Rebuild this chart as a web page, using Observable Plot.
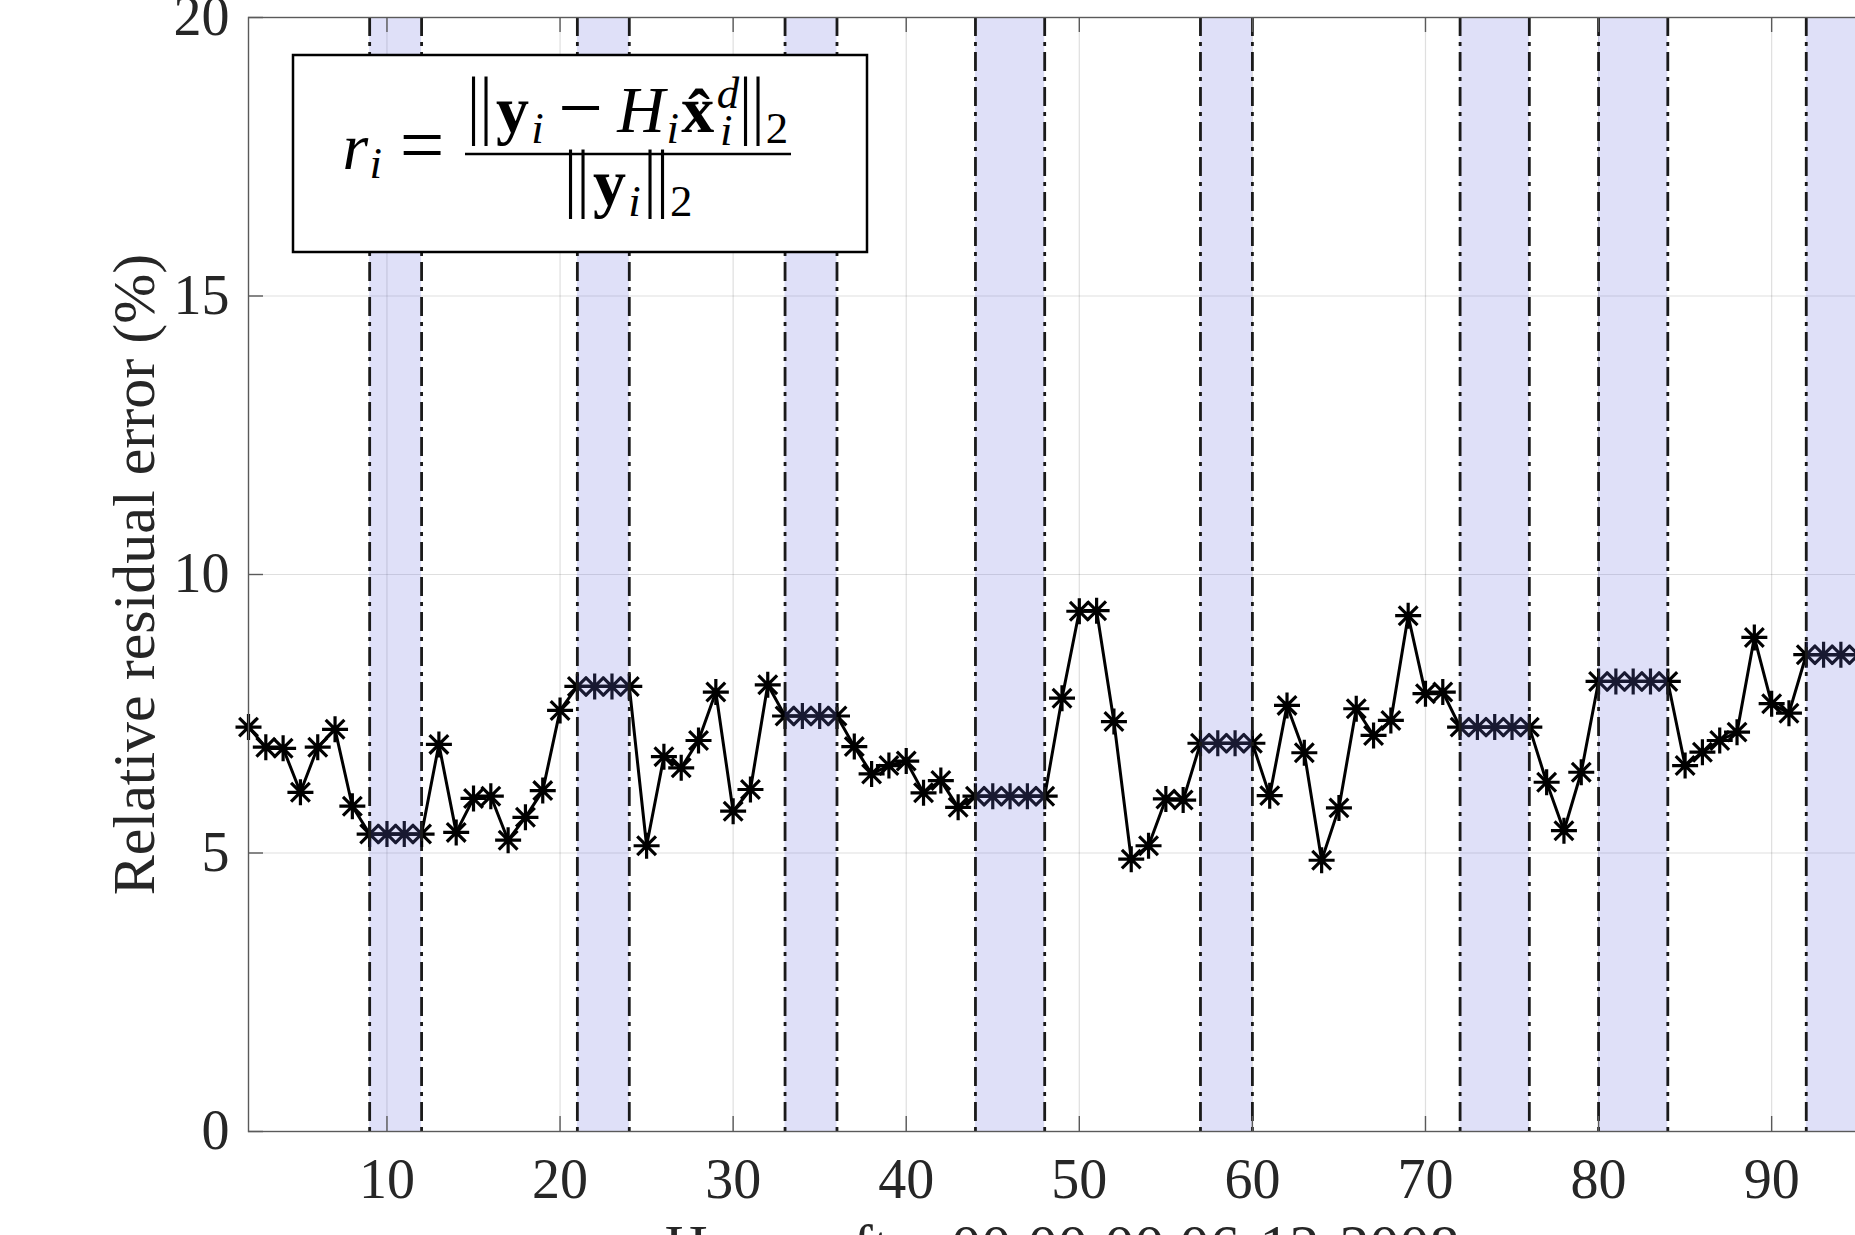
<!DOCTYPE html>
<html>
<head>
<meta charset="utf-8">
<script src="https://cdn.jsdelivr.net/npm/d3@7"></script>
<script src="https://cdn.jsdelivr.net/npm/@observablehq/plot@0.6"></script>
<style>
  html, body { margin: 0; padding: 0; overflow: hidden; background: #ffffff; }
  #chart { position: relative; width: 1900px; }
  #chart svg { max-width: none !important; }
</style>
</head>
<body>
<div id="chart"></div>
<script>
// ---------------- data ----------------
const hours = [2,3,4,5,6,7,8,9,10,11,12,13,14,15,16,17,18,19,20,21,22,23,24,25,26,27,28,29,30,31,32,33,34,35,36,37,38,39,40,41,42,43,44,45,46,47,48,49,50,51,52,53,54,55,56,57,58,59,60,61,62,63,64,65,66,67,68,69,70,71,72,73,74,75,76,77,78,79,80,81,82,83,84,85,86,87,88,89,90,91,92,93,94,95];
const errorPct = [
  7.26, 6.90, 6.88, 6.09, 6.90, 7.22, 5.84, 5.34, 5.34, 5.34,
  5.34, 6.95, 5.37, 5.98, 6.02, 5.23, 5.64, 6.12, 7.56, 7.99,
  7.99, 7.99, 7.99, 5.13, 6.73, 6.53, 7.02, 7.89, 5.75, 6.14,
  8.02, 7.46, 7.46, 7.46, 7.46, 6.91, 6.42, 6.57, 6.65, 6.08,
  6.30, 5.82, 6.02, 6.02, 6.02, 6.02, 6.02, 7.78, 9.34, 9.35,
  7.36, 4.89, 5.13, 5.97, 5.95, 6.97, 6.97, 6.97, 6.97, 6.03,
  7.65, 6.80, 4.87, 5.81, 7.59, 7.11, 7.38, 9.26, 7.86, 7.89,
  7.26, 7.26, 7.26, 7.26, 7.26, 6.27, 5.40, 6.45, 8.08, 8.08,
  8.08, 8.08, 8.08, 6.57, 6.81, 7.02, 7.17, 8.87, 7.68, 7.51,
  8.56, 8.56, 8.56, 8.56
];
const bandStart = [9, 21, 33, 44, 57, 72, 80, 92];
const bandEnd   = [12, 24, 36, 48, 60, 76, 84, 96];
const xTicks = [10, 20, 30, 40, 50, 60, 70, 80, 90];
const yTicks = [0, 5, 10, 15, 20];
const xLabel = "Hours after 00:00:00 06-12-2008";
const yLabel = "Relative residual error (%)";

// ---------------- layout ----------------
const W = 1875, H = 1290;
const mL = 248, mR = 0, mT = 17, mB = 159;
const plotW = W - mL - mR, plotH = H - mT - mB;
const axisColor = "#5a5a5a";
const textColor = "#262626";

const data = hours.map((h, i) => ({hour: h, err: errorPct[i]}));
const bands = bandStart.map((s, i) => ({start: s, end: bandEnd[i]}));
const bandEdges = bandStart.concat(bandEnd);

// MATLAB-style '*' marker: a plus and a cross
const matlabStar = {
  draw(ctx, size) {
    const r = Math.sqrt(size / Math.PI);
    const d = r * 0.72;
    ctx.moveTo(-r, 0); ctx.lineTo(r, 0);
    ctx.moveTo(0, -r); ctx.lineTo(0, r);
    ctx.moveTo(-d, -d); ctx.lineTo(d, d);
    ctx.moveTo(-d, d); ctx.lineTo(d, -d);
  }
};

const plot = Plot.plot({
  width: W,
  height: H,
  marginLeft: mL, marginRight: mR, marginTop: mT, marginBottom: mB,
  style: {fontFamily: "'Liberation Serif', 'Times New Roman', serif", background: "#ffffff", overflow: "visible", maxWidth: "none"},
  x: {domain: [2, 96], axis: null},
  y: {domain: [0, 20], axis: null},
  marks: [
    Plot.gridX(xTicks, {stroke: "#262626", strokeOpacity: 0.15, strokeWidth: 1.2}),
    Plot.gridY(yTicks, {stroke: "#262626", strokeOpacity: 0.15, strokeWidth: 1.2}),
    Plot.line(data, {x: "hour", y: "err", stroke: "#000", strokeWidth: 3}),
    Plot.dot(data, {x: "hour", y: "err", symbol: matlabStar, r: 13, stroke: "#000", fill: "none", strokeWidth: 3.2}),
    Plot.rect(bands, {x1: "start", x2: "end", fill: "rgb(110,112,225)", fillOpacity: 0.22}),
    Plot.ruleX(bandEdges, {x: d => d, stroke: "#1a1a1a", strokeWidth: 2.8, strokeDasharray: "19,6,4,6"}),
    Plot.frame({stroke: axisColor, strokeWidth: 1.4}),
    Plot.tickY(yTicks, {y: d => d, stroke: axisColor, strokeWidth: 1.4, insetRight: plotW - 15}),
    Plot.tickX(xTicks, {x: d => d, stroke: axisColor, strokeWidth: 1.4, insetTop: plotH - 15}),
    Plot.tickX(xTicks, {x: d => d, stroke: axisColor, strokeWidth: 1.4, insetBottom: plotH - 15}),
    Plot.text(yTicks, {y: d => d, text: d => String(d), frameAnchor: "left", dx: -19, textAnchor: "end", fontSize: 56, fill: textColor}),
    Plot.text(xTicks, {x: d => d, text: d => String(d), frameAnchor: "bottom", dy: 66, lineAnchor: "bottom", fontSize: 56, fill: textColor}),
    Plot.text([yLabel], {text: d => d, frameAnchor: "left", dx: -95, rotate: -90, lineAnchor: "bottom", textAnchor: "middle", fontSize: 60, fill: textColor}),
    Plot.text([xLabel], {text: d => d, frameAnchor: "bottom", dy: 134, lineAnchor: "bottom", textAnchor: "middle", fontSize: 60, fill: textColor})
  ]
});
plot.style.maxWidth = "none";
document.getElementById("chart").appendChild(plot);

// ---------------- formula annotation box ----------------
const svg = d3.select(plot);
const g = svg.append("g").attr("class", "formula");
g.append("rect")
  .attr("x", 293).attr("y", 55).attr("width", 574).attr("height", 197)
  .attr("fill", "#ffffff").attr("stroke", "#000").attr("stroke-width", 2.5);

const U = 59;      // layout unit (em of the reference math font)
const G = 66;      // glyph size
const serif = "'Liberation Serif', 'Times New Roman', serif";
function runLine(x0, y0, items) {
  let x = x0;
  for (const it of items) {
    const w = it.adv * U;
    for (const gl of (it.g || [])) {
      const cx = x + w / 2 + (gl.dx || 0) * U;
      const cy = y0 + (gl.dy || 0) * U;
      g.append("text")
        .attr("x", 0).attr("y", 0)
        .attr("transform", `translate(${cx},${cy}) scale(1,${gl.sy || 1})`)
        .attr("text-anchor", "middle")
        .attr("font-family", gl.f || serif)
        .attr("font-style", gl.it ? "italic" : "normal")
        .attr("font-weight", gl.wt || "normal")
        .attr("font-size", (gl.sz || 1) * G)
        .attr("letter-spacing", gl.ls || 0)
        .attr("fill", "#000")
        .text(gl.t);
    }
    x += w;
  }
}
const bars = {adv: 0.5, g: [{t: "||", sz: 0.95, sy: 1.2, dy: -0.03}]};
const subI = {adv: 0.24, g: [{t: "i", it: 1, sz: 0.68, dy: 0.18}]};
const sub2 = {adv: 0.35, g: [{t: "2", sz: 0.68, dy: 0.18}]};
// r_i =
runLine(342, 169, [
  {adv: 0.451, g: [{t: "r", it: 1}]},
  {adv: 0.24, g: [{t: "i", it: 1, sz: 0.68, dy: 0.15}]},
  {adv: 0.278},
  {adv: 0.778, g: [{t: "=", sz: 1.2, dy: 0.04}]}
]);
// numerator
runLine(465, 132, [
  bars,
  {adv: 0.607, g: [{t: "y", wt: "bold"}]},
  subI,
  {adv: 0.222},
  {adv: 0.778, g: [{t: "\u2212", sz: 1.2, dy: 0.04}]},
  {adv: 0.222},
  {adv: 0.831, g: [{t: "H", it: 1}]},
  subI,
  {adv: 0.607, g: [{t: "x\u0302", wt: "bold"}]},
  {adv: 0.364, g: [{t: "d", it: 1, sz: 0.68, dy: -0.4, dx: 0.03}, {t: "i", it: 1, sz: 0.68, dy: 0.22}]},
  bars,
  sub2
]);
// fraction bar
g.append("line").attr("x1", 465).attr("x2", 791).attr("y1", 154).attr("y2", 154)
  .attr("stroke", "#000").attr("stroke-width", 2.4);
// denominator
runLine(562, 205, [
  bars,
  {adv: 0.607, g: [{t: "y", wt: "bold"}]},
  subI,
  bars,
  sub2
]);
</script>
</body>
</html>
